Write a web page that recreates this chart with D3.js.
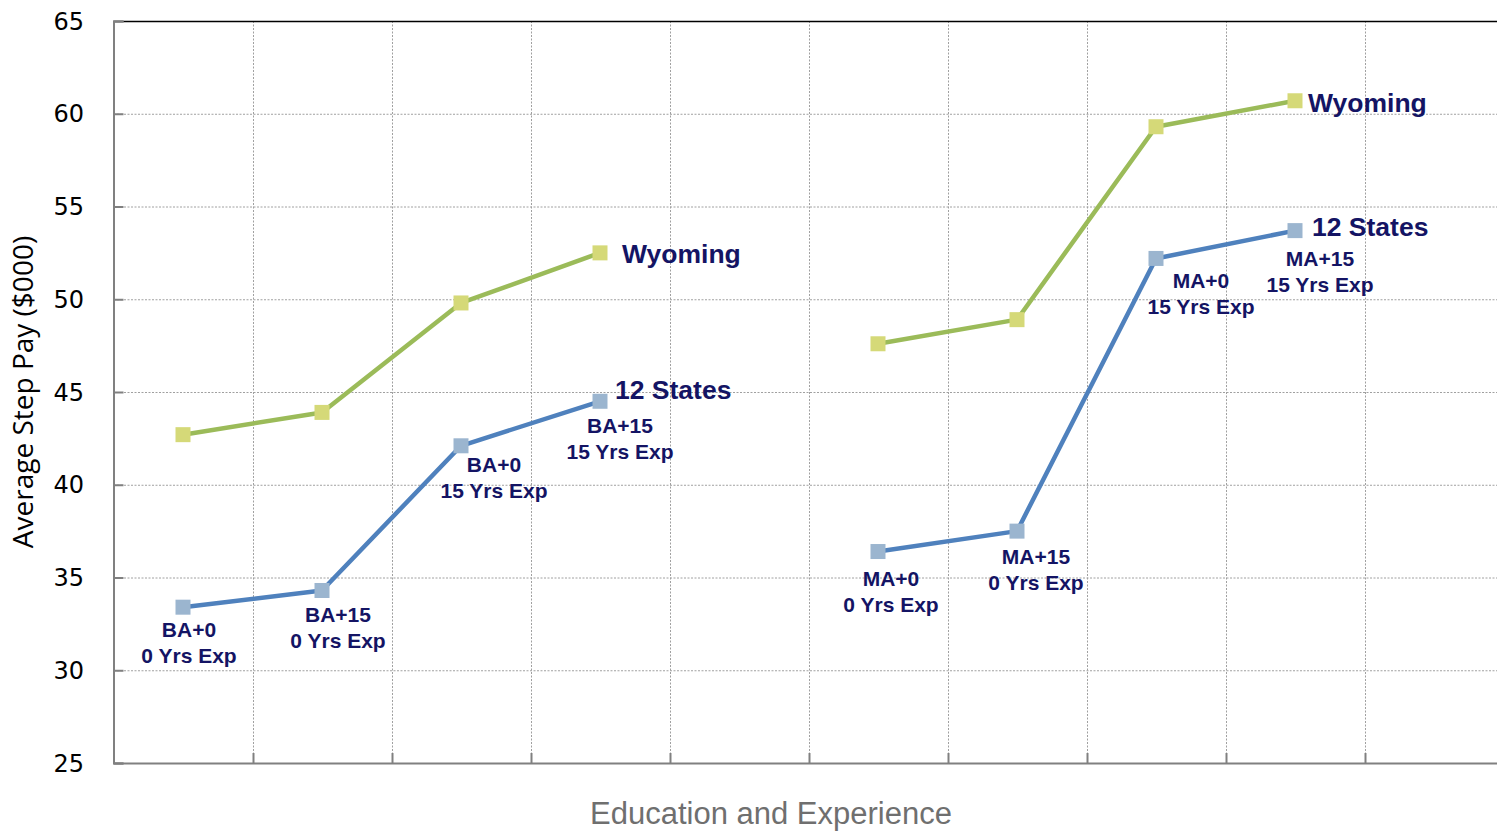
<!DOCTYPE html>
<html><head><meta charset="utf-8">
<script src="https://cdn.jsdelivr.net/npm/d3@7"></script>
<style>body{margin:0;background:#fff}svg{display:block}</style>
</head><body>
<svg id="c" width="1497" height="832"></svg>
<script>
const categories = ["c0","c1","c2","c3","gap1","c5","c6","c7","c8","gap2"];
const xIndexBA = ["c0","c1","c2","c3"];
const xIndexMA = ["c5","c6","c7","c8"];
const wyomingBA = [42.7, 43.9, 49.8, 52.5];
const wyomingMA = [47.6, 48.9, 59.3, 60.7];
const statesBA = [33.4, 34.3, 42.1, 44.5];
const statesMA = [36.4, 37.5, 52.2, 53.7];
const pointLabelsBA = [["BA+0","0 Yrs Exp"],["BA+15","0 Yrs Exp"],["BA+0","15 Yrs Exp"],["BA+15","15 Yrs Exp"]];
const pointLabelsMA = [["MA+0","0 Yrs Exp"],["MA+15","0 Yrs Exp"],["MA+0","15 Yrs Exp"],["MA+15","15 Yrs Exp"]];
const yTicks = [25,30,35,40,45,50,55,60,65];
const seriesNames = ["Wyoming","12 States"];

const svg = d3.select("#c");
const L = 113.5, R = 1503.5, T = 21, B = 763;
const x = d3.scaleBand().domain(categories).range([L, R]);
const y = d3.scaleLinear().domain([25, 65]).range([B, T]);
const cx = c => x(c) + x.bandwidth()/2;

// gridlines
const grid = svg.append("g");
grid.selectAll(".h").data(yTicks.filter(t => t>25 && t<65)).enter().append("line")
  .attr("x1", L).attr("x2", R).attr("y1", d=>y(d)+0.5).attr("y2", d=>y(d)+0.5)
  .attr("stroke","#a0a0a0").attr("stroke-width",1).attr("stroke-dasharray","2,1.5");
grid.selectAll(".v").data(categories.slice(1)).enter().append("line")
  .attr("x1", d=>Math.round(x(d))+0.5).attr("x2", d=>Math.round(x(d))+0.5).attr("y1", T).attr("y2", B)
  .attr("stroke","#a0a0a0").attr("stroke-width",1).attr("stroke-dasharray","2,1.5");

// top border
svg.append("line").attr("x1",L).attr("x2",R).attr("y1",T+0.5).attr("y2",T+0.5).attr("stroke","#000").attr("stroke-width",1.5);

// y axis
const yAxis = d3.axisRight(y).tickValues(yTicks).tickSize(10).tickFormat("");
const ya = svg.append("g").attr("transform",`translate(${L},0)`).call(yAxis);
ya.select(".domain").attr("stroke","#808080").attr("stroke-width",2);
ya.selectAll(".tick line").attr("stroke","#808080").attr("stroke-width",2);
svg.selectAll(".ylab").data(yTicks).enter().append("text")
  .attr("x", 84).attr("y", d=>y(d)).attr("dy","0.36em").attr("text-anchor","end")
  .attr("font-family","DejaVu Sans, sans-serif").attr("font-size",24).attr("fill","#000").text(d=>d);

// x axis
const xAxis = d3.axisTop(x).tickValues([]).tickSize(0);
const xa = svg.append("g").attr("transform",`translate(0,${B})`).call(xAxis);
xa.select(".domain").attr("stroke","#808080").attr("stroke-width",2);
svg.selectAll(".xt").data(categories.slice(1)).enter().append("line")
  .attr("x1", d=>Math.round(x(d))+0.5).attr("x2", d=>Math.round(x(d))+0.5).attr("y1", B).attr("y2", B-10)
  .attr("stroke","#808080").attr("stroke-width",2);

// axis titles
svg.append("text").attr("transform",`translate(33,${392}) rotate(-90)`).attr("text-anchor","middle")
  .attr("font-family","Open Sans, sans-serif").attr("font-size",28).attr("fill","#000").text("Average Step Pay ($000)");
svg.append("text").attr("x",771).attr("y",824).attr("text-anchor","middle")
  .attr("font-family","Liberation Sans, Arial, sans-serif").attr("font-size",31).attr("fill","#6f6f6f").text("Education and Experience");

const line = d3.line().x(d=>cx(d[0])).y(d=>y(d[1]));
function drawSeries(idx, vals, lineColor, markColor){
  const pts = idx.map((c,i)=>[c, vals[i]]);
  svg.append("path").datum(pts).attr("d",line).attr("fill","none").attr("stroke",lineColor).attr("stroke-width",4.5).attr("stroke-linejoin","round");
  svg.append("g").selectAll("rect").data(pts).enter().append("rect")
    .attr("x",d=>cx(d[0])-7.5).attr("y",d=>y(d[1])-7.5).attr("width",15).attr("height",15).attr("fill",markColor);
  return pts;
}
const green="#9bbb59", greenM="#d5d978", blue="#4f81bd", blueM="#9bb5cf";
const wBA = drawSeries(xIndexBA, wyomingBA, green, greenM);
const wMA = drawSeries(xIndexMA, wyomingMA, green, greenM);
const sBA = drawSeries(xIndexBA, statesBA, blue, blueM);
const sMA = drawSeries(xIndexMA, statesMA, blue, blueM);

const navy = "#141464";
// point labels: offsets relative to the point (dx, dy of first line)
const offBA = [[6,22],[16,24],[33,19],[20,24]];
const offMA = [[13,27],[19,26],[45,22],[25,28]];
function pointLabels(pts, labels, offs){
  pts.forEach((p,i)=>{
    const t = svg.append("text").attr("text-anchor","middle")
      .attr("font-family","Liberation Sans, Arial, sans-serif").attr("font-weight","bold").attr("font-size",21).attr("fill",navy);
    labels[i].forEach((s,j)=>{
      t.append("tspan").attr("x", cx(p[0])+offs[i][0]).attr("y", y(p[1])+offs[i][1]+j*26).attr("dy","0.35em").text(s);
    });
  });
}
pointLabels(sBA, pointLabelsBA, offBA);
pointLabels(sMA, pointLabelsMA, offMA);

function seriesLabel(p, name, dx, dy){
  svg.append("text").attr("x", cx(p[0])+dx).attr("y", y(p[1])+dy).attr("dy","0.35em")
    .attr("font-family","Liberation Sans, Arial, sans-serif").attr("font-weight","bold").attr("font-size",26.5).attr("fill",navy).text(name);
}
seriesLabel(wBA[3], seriesNames[0], 22, 1);
seriesLabel(wMA[3], seriesNames[0], 13, 2);
seriesLabel(sBA[3], seriesNames[1], 15, -12);
seriesLabel(sMA[3], seriesNames[1], 17, -4);
</script>
</body></html>
